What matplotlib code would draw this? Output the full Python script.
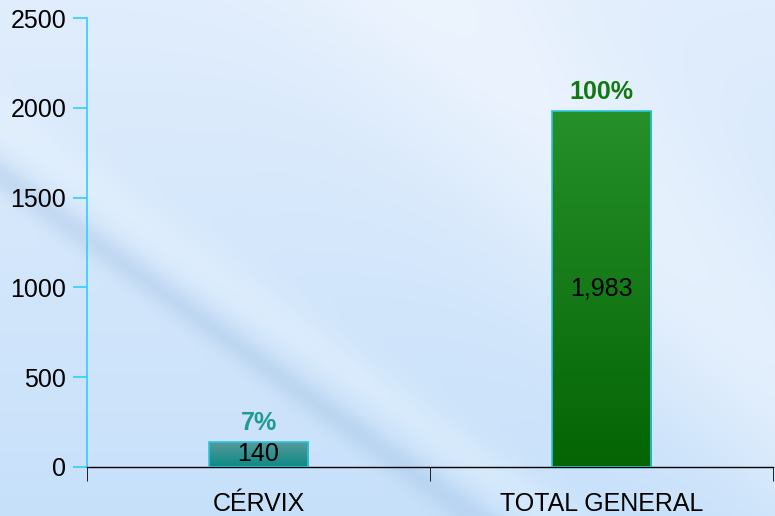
import numpy as np
import matplotlib
matplotlib.use("Agg")
import matplotlib.pyplot as plt
from matplotlib.colors import LinearSegmentedColormap

categories = ["CÉRVIX", "TOTAL GENERAL"]
values = [140, 1983]
value_labels = ["140", "1,983"]
pct_labels = ["7%", "100%"]
yticks = [0, 500, 1000, 1500, 2000, 2500]

W, H = 775, 516
fig = plt.figure(figsize=(W / 100, H / 100), dpi=100)

# background
bg = fig.add_axes([0, 0, 1, 1], zorder=-10)
yy, xx = np.mgrid[0:H, 0:W]
c_top = np.array([0.88, 0.93, 0.99])
c_bot = np.array([0.78, 0.88, 0.98])
t = (yy / H)[..., None]
base = c_top * (1 - t) + c_bot * t
# light region upper right
d_light = (xx - 0.95 * yy - 430) / 150.0
light = np.exp(-d_light ** 2)[..., None]
base = base * (1 - 0.5 * light) + np.array([0.97, 0.98, 1.0]) * 0.5 * light
# white band just right of streak
d_w = (yy - 0.72 * xx - 120) / 30.0
wb = np.exp(-d_w ** 2)[..., None]
base = base * (1 - 0.35 * wb) + np.array([0.93, 0.97, 1.0]) * 0.35 * wb
# diagonal dark streak
d_streak = (yy - 0.72 * xx - 175) / 18.0
streak = np.exp(-d_streak ** 2)[..., None]
base = base * (1 - 0.35 * streak) + np.array([0.62, 0.75, 0.88]) * 0.35 * streak
bg.imshow(np.clip(base, 0, 1), extent=[0, 1, 0, 1], aspect="auto")
bg.axis("off")

ax = fig.add_axes([87 / W, 49 / H, (773 - 87) / W, (467 - 18) / H])
ax.patch.set_alpha(0)

x = np.arange(len(categories))
bw = 0.29
bars = ax.bar(x, values, width=bw, color="none", edgecolor="#2bc4e0", linewidth=1.2, zorder=3)

grads = [
    LinearSegmentedColormap.from_list("g1", ["#0a8a84", "#5a9a9c"]),
    LinearSegmentedColormap.from_list("g2", ["#046404", "#26902a"]),
]
grad = np.linspace(0, 1, 256).reshape(-1, 1)
for b, cm in zip(bars, grads):
    x0, y0 = b.get_x(), b.get_y()
    im = ax.imshow(grad, cmap=cm, origin="lower", aspect="auto",
                   extent=[x0, x0 + b.get_width(), y0, y0 + b.get_height()], zorder=2)
    im.set_clip_path(b)

ax.set_xlim(-0.5, 1.5)
ax.set_ylim(0, 2500)

fam = ["Liberation Sans", "DejaVu Sans"]
for xi, v, vl, pl, pc in zip(x, values, value_labels, pct_labels, ["#1f9a8e", "#127812"]):
    ax.text(xi, v / 2, vl, ha="center", va="center", fontsize=18,
            color="black", zorder=5, family=fam)
    ax.text(xi, v + 40, pl, ha="center", va="bottom", fontsize=18, fontweight="bold",
            color=pc, zorder=5, family=fam)

ax.set_yticks(yticks)
ax.set_yticklabels([str(v) for v in yticks], fontsize=18, family=fam)
ax.set_xticks(x)
ax.set_xticklabels(categories, fontsize=18, family=fam)
ax.tick_params(axis="x", length=0, pad=18)
ax.set_xticks([-0.5, 0.5, 1.5], minor=True)
ax.tick_params(axis="x", which="minor", length=10, color="black", direction="out")
ax.tick_params(axis="y", length=10, color="#33ccff", width=1.2, pad=5)

for s in ["top", "right"]:
    ax.spines[s].set_visible(False)
ax.spines["left"].set_color("#33ccff")
ax.spines["left"].set_linewidth(1.2)
ax.spines["bottom"].set_color("black")
ax.spines["bottom"].set_linewidth(1.0)

fig.savefig("out.png", dpi=100)
